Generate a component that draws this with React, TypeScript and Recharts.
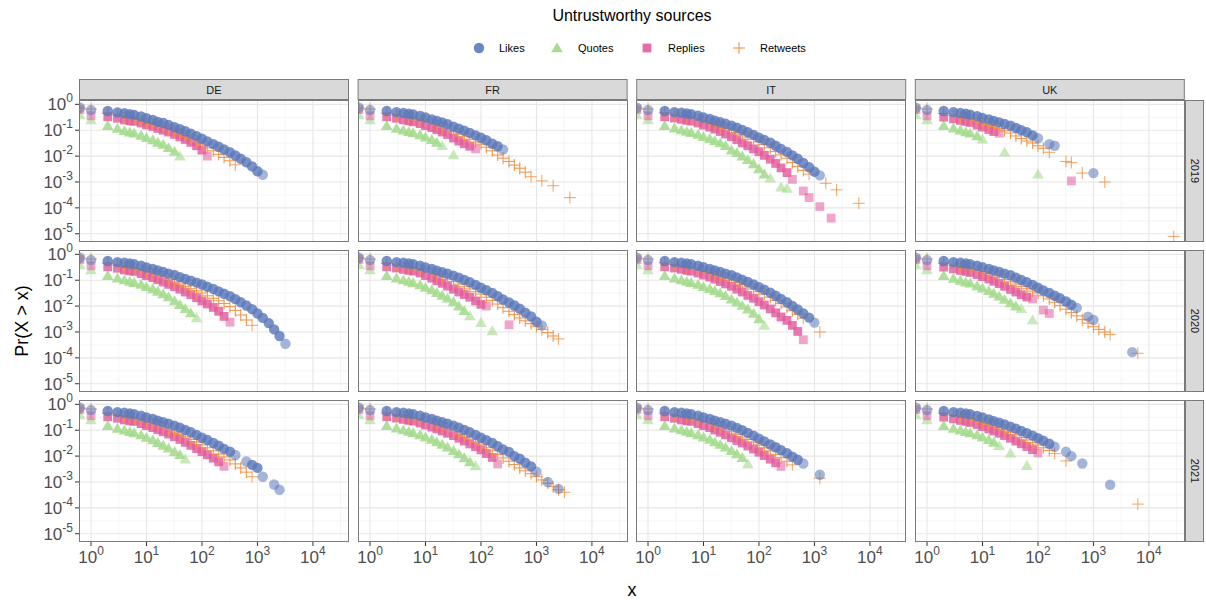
import React from 'react';
import { ScatterChart, Scatter, XAxis, YAxis, CartesianGrid } from 'recharts';

const _ = null;

const COUNTRIES = ['DE', 'FR', 'IT', 'UK'];
const YEARS = ['2019', '2020', '2021'];
const SERIES = ['Likes', 'Quotes', 'Replies', 'Retweets'];

// x positions shared by all series (log spaced, ~10 per decade above 10)
const XS = [0.63, 1, 2, 3, 4, 5, 6, 8, 10, 13, 16, 20, 25, 32, 40, 50, 63, 80, 100, 125, 160, 200, 250, 320, 400, 500, 630, 800, 1000, 1250, 1600, 2000, 2500, 3200, 4000, 5000, 6300, 8000, 10000, 12500, 16000, 20000, 28000];

const X_TICKS = [1, 10, 100, 1000, 10000];
const X_TICK_EXP = ['0', '1', '2', '3', '4'];
const Y_TICKS = [1, 0.1, 0.01, 0.001, 0.0001, 0.00001];
const Y_TICK_EXP = ['0', '-1', '-2', '-3', '-4', '-5'];
const X_MINOR = [3.162, 31.62, 316.2, 3162, 31623];
const Y_MINOR = [0.3162, 0.03162, 0.003162, 0.0003162, 0.00003162];

// ---- 2019 ----
const DE_2019_LIKES = [0.74, 0.6, 0.55, 0.49, 0.45, 0.42, 0.39, 0.34, 0.29, 0.25, 0.21, 0.19, 0.16, 0.13, 0.11, 0.091, 0.074, 0.059, 0.047, 0.037, 0.029, 0.023, 0.018, 0.014, 0.0105, 0.0079, 0.0058, 0.004, 0.0026, 0.0019];
const DE_2019_QUOTES = [0.39, 0.25, 0.15, 0.117, 0.095, 0.083, 0.076, 0.063, 0.051, 0.042, 0.034, 0.028, 0.021, 0.015, 0.01];
const DE_2019_REPLIES = [0.63, 0.36, 0.33, 0.29, 0.25, 0.23, 0.22, 0.19, 0.16, 0.14, 0.117, 0.1, 0.085, 0.069, 0.055, 0.044, 0.034, 0.025, 0.017, 0.01];
const DE_2019_RETWEETS = [0.71, 0.66, 0.45, 0.38, 0.33, 0.3, 0.275, 0.234, 0.2, 0.17, 0.145, 0.126, 0.107, 0.089, 0.072, 0.059, 0.048, 0.036, 0.027, 0.021, 0.016, 0.0117, 0.0089, 0.0066, 0.0046];

const FR_2019_LIKES = [0.74, 0.6, 0.55, 0.5, 0.46, 0.43, 0.41, 0.355, 0.31, 0.263, 0.229, 0.2, 0.17, 0.138, 0.115, 0.095, 0.079, 0.063, 0.051, 0.041, 0.03, 0.024, 0.018];
const FR_2019_QUOTES = [0.39, 0.25, 0.15, 0.117, 0.1, 0.087, 0.079, 0.066, 0.054, 0.043, 0.034, 0.025, _, 0.011];
const FR_2019_REPLIES = [0.63, 0.36, 0.33, 0.29, 0.25, 0.23, 0.21, 0.18, 0.15, 0.126, 0.105, 0.085, 0.068, 0.05, 0.038, 0.03, 0.024, 0.019];
const FR_2019_RETWEETS = [0.71, 0.66, 0.45, 0.38, 0.34, 0.31, 0.28, 0.245, 0.214, 0.182, 0.155, 0.132, 0.11, 0.087, 0.071, 0.056, 0.045, 0.035, 0.029, 0.022, 0.016, 0.011, 0.0083, 0.0062, 0.0045, 0.0034, 0.0024, 0.0016, _, 0.0011, _, 0.00072, _, _, 0.00025];

const IT_2019_LIKES = [0.74, 0.6, 0.55, 0.5, 0.47, 0.44, 0.42, 0.36, 0.31, 0.27, 0.234, 0.204, 0.178, 0.151, 0.126, 0.102, 0.083, 0.066, 0.051, 0.042, 0.033, 0.025, 0.019, 0.0145, 0.0107, 0.0079, 0.0054, 0.0037, 0.0025, 0.0018];
const IT_2019_QUOTES = [0.39, 0.25, 0.15, 0.12, 0.102, 0.089, 0.081, 0.068, 0.056, 0.047, 0.039, 0.032, 0.025, 0.017, 0.0135, 0.01, 0.0072, 0.005, 0.0032, 0.002, 0.0014, _, 0.00063, 0.00056];
const IT_2019_REPLIES = [0.63, 0.36, 0.33, 0.295, 0.263, 0.24, 0.224, 0.19, 0.158, 0.132, 0.11, 0.089, 0.071, 0.056, 0.043, 0.032, 0.025, 0.019, 0.0148, 0.0107, 0.0076, 0.0052, 0.0035, 0.0023, 0.00126, _, 0.00045, 0.00025, _, 0.000112, _, 0.00004];
const IT_2019_RETWEETS = [0.71, 0.66, 0.47, 0.4, 0.355, 0.324, 0.3, 0.263, 0.229, 0.195, 0.166, 0.138, 0.117, 0.1, 0.081, 0.066, 0.054, 0.045, 0.036, 0.028, 0.021, 0.015, 0.0112, 0.0083, 0.0056, 0.004, 0.0028, 0.002, _, _, 0.00089, _, 0.0005, _, _, _, 0.00015];

const UK_2019_LIKES = [0.74, 0.6, 0.55, 0.5, 0.46, 0.43, 0.4, 0.35, 0.3, 0.263, 0.229, 0.2, 0.174, 0.148, 0.123, 0.1, 0.083, 0.063, 0.049, _, 0.029, 0.025, _, _, _, _, _, _, 0.0022];
const UK_2019_QUOTES = [0.39, 0.25, 0.15, 0.12, 0.1, 0.085, 0.076, 0.06, 0.045, _, _, _, 0.014, _, _, _, _, _, 0.002];
const UK_2019_REPLIES = [0.63, 0.36, 0.32, 0.275, 0.24, 0.22, 0.2, 0.158, 0.132, 0.107, 0.089, 0.076, _, _, _, _, _, _, _, _, _, _, _, _, 0.0011];
const UK_2019_RETWEETS = [0.71, 0.66, 0.44, 0.37, 0.33, 0.3, 0.275, 0.234, 0.2, 0.166, 0.138, 0.115, 0.095, 0.078, 0.06, 0.048, 0.038, 0.032, 0.025, 0.02, 0.014, _, _, 0.0062, 0.0056, _, 0.0022, _, _, _, 0.001, _, _, _, _, _, _, _, _, _, _, _, 0.0000079];

// ---- 2020 ----
const DE_2020_LIKES = [0.74, 0.6, 0.55, 0.5, 0.47, 0.44, 0.42, 0.36, 0.31, 0.27, 0.24, 0.21, 0.18, 0.158, 0.132, 0.112, 0.095, 0.081, 0.068, 0.056, 0.046, 0.037, 0.03, 0.024, 0.0186, 0.0141, 0.0105, 0.0076, 0.0052, 0.0035, 0.0022, 0.00126, 0.0007, 0.00035];
const DE_2020_QUOTES = [0.39, 0.25, 0.15, 0.12, 0.102, 0.089, 0.081, 0.068, 0.056, 0.046, 0.037, 0.0295, 0.0224, 0.0158, 0.0112, 0.0079, 0.0054, 0.0035];
const DE_2020_REPLIES = [0.63, 0.36, 0.33, 0.29, 0.25, 0.23, 0.22, 0.18, 0.15, 0.126, 0.105, 0.085, 0.069, 0.056, 0.045, 0.035, 0.0275, 0.021, 0.0158, 0.012, 0.0089, 0.0063, 0.004, 0.0024];
const DE_2020_RETWEETS = [0.71, 0.66, 0.45, 0.38, 0.34, 0.31, 0.28, 0.245, 0.214, 0.182, 0.155, 0.132, 0.107, 0.087, 0.071, 0.058, 0.047, 0.039, 0.032, 0.025, 0.02, 0.016, 0.0126, 0.0095, 0.0068, 0.0045, 0.0029, 0.0018];

const FR_2020_LIKES = [0.74, 0.6, 0.55, 0.5, 0.47, 0.44, 0.42, 0.36, 0.31, 0.27, 0.234, 0.204, 0.178, 0.151, 0.126, 0.102, 0.083, 0.066, 0.051, 0.041, 0.032, 0.024, 0.018, 0.0138, 0.0105, 0.0079, 0.0056, 0.004, 0.0025, 0.0018];
const FR_2020_QUOTES = [0.39, 0.25, 0.15, 0.12, 0.102, 0.089, 0.079, 0.065, 0.052, 0.042, 0.033, 0.026, 0.02, 0.0145, 0.01, 0.0066, 0.0042, _, 0.0023, _, 0.0011];
const FR_2020_REPLIES = [0.63, 0.36, 0.33, 0.295, 0.263, 0.24, 0.224, 0.19, 0.151, 0.12, 0.095, 0.076, 0.059, 0.045, 0.035, 0.028, 0.022, 0.0158, 0.0117, 0.01, _, _, _, 0.0019];
const FR_2020_RETWEETS = [0.71, 0.66, 0.45, 0.38, 0.34, 0.31, 0.28, 0.245, 0.214, 0.182, 0.155, 0.132, 0.11, 0.089, 0.071, 0.056, 0.046, 0.036, 0.029, 0.022, 0.0166, 0.012, 0.0087, 0.0063, 0.0047, 0.0035, 0.0027, 0.0021, 0.0016, 0.00126, 0.00095, 0.0007, 0.00054];

const IT_2020_LIKES = [0.74, 0.6, 0.55, 0.5, 0.47, 0.44, 0.42, 0.36, 0.32, 0.275, 0.24, 0.21, 0.18, 0.155, 0.129, 0.105, 0.085, 0.068, 0.054, 0.043, 0.033, 0.025, 0.019, 0.0141, 0.0102, 0.0074, 0.0052, 0.0036, 0.0023];
const IT_2020_QUOTES = [0.39, 0.25, 0.15, 0.12, 0.102, 0.089, 0.081, 0.068, 0.056, 0.047, 0.039, 0.032, 0.025, 0.0186, 0.0141, 0.0105, 0.0076, 0.0052, 0.0032, 0.0018];
const IT_2020_REPLIES = [0.63, 0.36, 0.33, 0.295, 0.263, 0.24, 0.224, 0.19, 0.158, 0.132, 0.11, 0.089, 0.072, 0.058, 0.045, 0.035, 0.026, 0.02, 0.0148, 0.011, 0.0078, 0.0055, 0.0038, 0.0028, 0.0018, 0.00105, 0.0005];
const IT_2020_RETWEETS = [0.71, 0.66, 0.47, 0.4, 0.355, 0.324, 0.3, 0.263, 0.229, 0.195, 0.166, 0.141, 0.12, 0.1, 0.083, 0.068, 0.055, 0.045, 0.036, 0.029, 0.022, 0.0166, 0.0126, 0.0093, 0.0066, 0.0048, 0.0034, _, _, 0.001];

const UK_2020_LIKES = [0.74, 0.6, 0.55, 0.5, 0.47, 0.44, 0.42, 0.36, 0.32, 0.275, 0.24, 0.21, 0.18, 0.155, 0.126, 0.102, 0.083, 0.066, 0.051, 0.04, 0.032, 0.025, 0.02, 0.015, 0.0112, 0.0085, _, 0.0039, 0.0029, _, _, _, _, _, _, 0.000166];
const UK_2020_QUOTES = [0.39, 0.25, 0.15, 0.117, 0.098, 0.083, 0.076, 0.06, 0.049, 0.039, 0.031, 0.024, 0.018, 0.0132, 0.01, 0.0079, _, 0.0029];
const UK_2020_REPLIES = [0.63, 0.36, 0.32, 0.275, 0.24, 0.22, 0.2, 0.166, 0.138, 0.112, 0.091, 0.074, 0.058, 0.044, 0.035, 0.0275, 0.0224, 0.019, _, 0.007, 0.0052];
const UK_2020_RETWEETS = [0.71, 0.66, 0.45, 0.38, 0.34, 0.31, 0.28, 0.245, 0.214, 0.182, 0.155, 0.132, 0.107, 0.087, 0.071, 0.058, 0.047, 0.038, 0.032, 0.025, 0.019, 0.0141, 0.0105, 0.0076, 0.0056, 0.0042, 0.003, 0.0022, 0.0016, 0.00126, 0.001, 0.0008, _, _, _, _, 0.00015];

// ---- 2021 ----
const DE_2021_LIKES = [0.74, 0.6, 0.55, 0.5, 0.47, 0.44, 0.42, 0.36, 0.31, 0.27, 0.234, 0.204, 0.178, 0.151, 0.126, 0.102, 0.083, 0.066, 0.051, 0.042, 0.032, 0.025, 0.019, 0.0148, 0.011, _, 0.0062, 0.0046, 0.0035, 0.0016, _, 0.0008, 0.0005];
const DE_2021_QUOTES = [0.39, 0.25, 0.15, 0.117, 0.1, 0.087, 0.079, 0.065, 0.052, 0.042, 0.033, 0.026, 0.02, 0.0148, 0.0112, 0.0076];
const DE_2021_REPLIES = [0.63, 0.36, 0.33, 0.29, 0.25, 0.23, 0.22, 0.18, 0.15, 0.126, 0.105, 0.087, 0.071, 0.056, 0.044, 0.034, 0.026, 0.0195, 0.0148, 0.0112, 0.0083, 0.006, 0.004];
const DE_2021_RETWEETS = [0.71, 0.66, 0.45, 0.38, 0.34, 0.31, 0.28, 0.245, 0.214, 0.182, 0.155, 0.132, 0.107, 0.087, 0.069, 0.055, 0.044, 0.035, 0.027, 0.021, 0.016, 0.012, 0.0093, 0.0071, 0.005, 0.0035, 0.0024, 0.0016];

const FR_2021_LIKES = [0.74, 0.6, 0.55, 0.5, 0.47, 0.44, 0.42, 0.36, 0.31, 0.27, 0.234, 0.204, 0.178, 0.151, 0.126, 0.102, 0.083, 0.066, 0.051, 0.041, 0.032, 0.024, 0.018, 0.0145, 0.01, 0.0079, 0.0056, 0.004, 0.0025, _, 0.001, _, 0.00054];
const FR_2021_QUOTES = [0.39, 0.25, 0.15, 0.12, 0.102, 0.089, 0.079, 0.066, 0.054, 0.044, 0.035, 0.028, 0.022, 0.0162, 0.012, 0.0085, 0.006, 0.0042];
const FR_2021_REPLIES = [0.63, 0.36, 0.33, 0.295, 0.263, 0.24, 0.224, 0.19, 0.158, 0.132, 0.112, 0.093, 0.076, 0.062, 0.049, 0.038, 0.0295, 0.023, 0.0174, 0.0126, 0.0089, 0.005];
const FR_2021_RETWEETS = [0.71, 0.66, 0.45, 0.38, 0.34, 0.31, 0.28, 0.245, 0.214, 0.182, 0.155, 0.132, 0.11, 0.089, 0.071, 0.056, 0.045, 0.035, 0.027, 0.021, 0.016, 0.0117, 0.0085, 0.0063, 0.0047, 0.0035, 0.0027, 0.0021, 0.0016, 0.0012, 0.00089, 0.00066, 0.0005, 0.0004];

const IT_2021_LIKES = [0.74, 0.6, 0.55, 0.5, 0.47, 0.44, 0.42, 0.36, 0.31, 0.27, 0.234, 0.204, 0.178, 0.151, 0.123, 0.1, 0.079, 0.062, 0.047, 0.037, 0.028, 0.022, 0.017, 0.0129, 0.0095, 0.0072, 0.0052, _, _, 0.0019];
const IT_2021_QUOTES = [0.39, 0.25, 0.15, 0.12, 0.102, 0.089, 0.079, 0.066, 0.054, 0.044, 0.035, 0.028, 0.022, 0.0162, 0.012, 0.0087, 0.005];
const IT_2021_REPLIES = [0.63, 0.36, 0.33, 0.29, 0.25, 0.23, 0.22, 0.18, 0.15, 0.126, 0.102, 0.083, 0.066, 0.051, 0.04, 0.032, 0.0245, 0.0186, 0.0141, 0.0105, 0.0076, 0.0055, 0.004];
const IT_2021_RETWEETS = [0.71, 0.66, 0.45, 0.38, 0.34, 0.31, 0.28, 0.245, 0.214, 0.182, 0.155, 0.132, 0.107, 0.087, 0.069, 0.055, 0.044, 0.035, 0.027, 0.021, 0.016, 0.0117, 0.0087, 0.0063, 0.0046, _, _, _, _, 0.0014];

const UK_2021_LIKES = [0.74, 0.6, 0.55, 0.5, 0.47, 0.44, 0.42, 0.355, 0.31, 0.263, 0.224, 0.195, 0.166, 0.138, 0.115, 0.093, 0.076, 0.062, 0.049, 0.039, 0.03, 0.023, _, 0.0148, 0.01, _, 0.0052, _, _, _, _, 0.00078];
const UK_2021_QUOTES = [0.39, 0.25, 0.15, 0.117, 0.1, 0.087, 0.079, 0.066, 0.054, 0.043, 0.034, 0.025, _, 0.0129, _, _, 0.0043];
const UK_2021_REPLIES = [0.63, 0.36, 0.32, 0.275, 0.24, 0.22, 0.2, 0.166, 0.138, 0.112, 0.093, 0.076, 0.062, 0.049, 0.038, 0.03, 0.0234, 0.0178, 0.0132];
const UK_2021_RETWEETS = [0.71, 0.66, 0.45, 0.38, 0.34, 0.31, 0.28, 0.24, 0.2, 0.17, 0.145, 0.123, 0.102, 0.083, 0.066, 0.052, 0.042, 0.033, 0.027, 0.021, 0.0166, 0.0126, _, 0.0065, _, _, _, _, _, _, _, _, _, _, _, _, 0.00014];

// lookup: country -> year -> [likes, quotes, replies, retweets]
const PANEL_DATA: Record<string, Record<string, (number | null)[][]>> = {
  DE: {
    '2019': [DE_2019_LIKES, DE_2019_QUOTES, DE_2019_REPLIES, DE_2019_RETWEETS],
    '2020': [DE_2020_LIKES, DE_2020_QUOTES, DE_2020_REPLIES, DE_2020_RETWEETS],
    '2021': [DE_2021_LIKES, DE_2021_QUOTES, DE_2021_REPLIES, DE_2021_RETWEETS],
  },
  FR: {
    '2019': [FR_2019_LIKES, FR_2019_QUOTES, FR_2019_REPLIES, FR_2019_RETWEETS],
    '2020': [FR_2020_LIKES, FR_2020_QUOTES, FR_2020_REPLIES, FR_2020_RETWEETS],
    '2021': [FR_2021_LIKES, FR_2021_QUOTES, FR_2021_REPLIES, FR_2021_RETWEETS],
  },
  IT: {
    '2019': [IT_2019_LIKES, IT_2019_QUOTES, IT_2019_REPLIES, IT_2019_RETWEETS],
    '2020': [IT_2020_LIKES, IT_2020_QUOTES, IT_2020_REPLIES, IT_2020_RETWEETS],
    '2021': [IT_2021_LIKES, IT_2021_QUOTES, IT_2021_REPLIES, IT_2021_RETWEETS],
  },
  UK: {
    '2019': [UK_2019_LIKES, UK_2019_QUOTES, UK_2019_REPLIES, UK_2019_RETWEETS],
    '2020': [UK_2020_LIKES, UK_2020_QUOTES, UK_2020_REPLIES, UK_2020_RETWEETS],
    '2021': [UK_2021_LIKES, UK_2021_QUOTES, UK_2021_REPLIES, UK_2021_RETWEETS],
  },
};

const COLORS: Record<string, string> = {
  Likes: '#5b79ba',
  Quotes: '#a3da8b',
  Replies: '#e25c9e',
  Retweets: '#f28f40',
};
const DRAW_ORDER = [1, 2, 3, 0]; // quotes, replies, retweets, likes on top

const FONT = '"Liberation Sans", Arial, Helvetica, sans-serif';
const COL_LEFT = [79, 357.6, 636.2, 914.8];
const ROW_TOP = [100, 250, 400];
const PLOT_W = 270;
const PLOT_H = 142;
const TOP_PAD = 14;
const BOTTOM_PAD = 10;
const X_DOMAIN = [0.607, 44700];
const Y_DOMAIN = [0.0000048, 1.47];

// points that sit inside a run of neighbours get a stronger fill (overplotting in the original)
function toPoints(ys: (number | null)[]) {
  const out: { x: number; y: number; dense: boolean }[] = [];
  ys.forEach((y, i) => {
    if (y != null) out.push({ x: XS[i], y, dense: ys[i - 1] != null && ys[i + 1] != null && i > 1 });
  });
  return out;
}

function Marker({ cx, cy, kind, dense, legend }: any) {
  if (cx == null || cy == null) return null;
  const c = COLORS[kind];
  const op = legend ? 0.9 : dense ? 0.82 : 0.55;
  if (kind === 'Likes') return <circle cx={cx} cy={cy} r={5.2} fill={c} fillOpacity={op} />;
  if (kind === 'Quotes')
    return (
      <polygon
        points={`${cx},${cy - 5.6} ${cx - 5.8},${cy + 4.3} ${cx + 5.8},${cy + 4.3}`}
        fill={c}
        fillOpacity={Math.min(1, op + 0.05)}
      />
    );
  if (kind === 'Replies') return <rect x={cx - 4.4} y={cy - 4.4} width={8.8} height={8.8} fill={c} fillOpacity={op} />;
  return (
    <g stroke={c} strokeOpacity={legend ? 0.95 : dense ? 0.9 : 0.75} strokeWidth={1.1}>
      <line x1={cx - 6} y1={cy} x2={cx + 6} y2={cy} />
      <line x1={cx} y1={cy - 6} x2={cx} y2={cy + 6} />
    </g>
  );
}

const XTick = (props: any) => {
  const { x, y, payload } = props;
  const exp = X_TICK_EXP[X_TICKS.indexOf(payload.value)];
  return (
    <text x={x} y={y + 15} textAnchor="middle" fill="#4d4d4d" fontFamily={FONT} fontSize={17}>
      10
      <tspan dy={-8} fontSize={12}>
        {exp}
      </tspan>
    </text>
  );
};

const YTick = (props: any) => {
  const { x, y, payload } = props;
  const exp = Y_TICK_EXP[Y_TICKS.indexOf(payload.value)];
  return (
    <text x={x} y={y + 6} textAnchor="end" fill="#4d4d4d" fontFamily={FONT} fontSize={17}>
      10
      <tspan dy={-8} fontSize={12}>
        {exp}
      </tspan>
    </text>
  );
};

function Panel({ ci, ri }: { ci: number; ri: number }) {
  const showY = ci === 0;
  const showX = ri === YEARS.length - 1;
  const yw = showY ? 79 : 0;
  const xh = showX ? 40 : 0;
  const bottom = showX ? 0 : BOTTOM_PAD;
  const series = PANEL_DATA[COUNTRIES[ci]][YEARS[ri]];
  return (
    <div style={{ position: 'absolute', left: COL_LEFT[ci] - yw, top: ROW_TOP[ri] - TOP_PAD }}>
      <ScatterChart
        width={PLOT_W + yw}
        height={PLOT_H + xh + TOP_PAD + bottom}
        margin={{ top: TOP_PAD, right: 0, bottom, left: 0 }}
      >
        <CartesianGrid stroke="#f0f0f0" strokeWidth={0.7} horizontalValues={Y_MINOR} verticalValues={X_MINOR} />
        <CartesianGrid stroke="#e6e6e6" strokeWidth={1.1} horizontalValues={Y_TICKS} verticalValues={X_TICKS} />
        <XAxis
          type="number"
          dataKey="x"
          scale="log"
          domain={X_DOMAIN}
          allowDataOverflow
          ticks={X_TICKS}
          interval={0}
          hide={!showX}
          height={xh}
          tick={<XTick />}
          tickSize={4}
          tickLine={{ stroke: '#333' }}
          axisLine={false}
        />
        <YAxis
          type="number"
          dataKey="y"
          scale="log"
          domain={Y_DOMAIN}
          allowDataOverflow
          ticks={Y_TICKS}
          interval={0}
          hide={!showY}
          width={yw}
          tick={<YTick />}
          tickSize={4}
          tickLine={{ stroke: '#333' }}
          axisLine={false}
        />
        {DRAW_ORDER.map((si) => (
          <Scatter
            key={SERIES[si]}
            name={SERIES[si]}
            data={toPoints(series[si])}
            isAnimationActive={false}
            shape={(p: any) => <Marker cx={p.cx} cy={p.cy} kind={SERIES[si]} dense={p.payload?.dense} />}
          />
        ))}
      </ScatterChart>
      <div
        style={{
          position: 'absolute',
          left: yw,
          top: TOP_PAD,
          width: PLOT_W,
          height: PLOT_H,
          border: '1px solid #7a7a7a',
          boxSizing: 'border-box',
          pointerEvents: 'none',
        }}
      />
    </div>
  );
}

const LEGEND_POS = [
  { mx: 479, tx: 499 },
  { mx: 557, tx: 578 },
  { mx: 647, tx: 668 },
  { mx: 739, tx: 760 },
];

export default function App() {
  return (
    <div style={{ position: 'absolute', left: 0, top: 0, width: 1206, height: 601, background: '#fff', fontFamily: FONT }}>
      <svg width={1206} height={601} style={{ position: 'absolute', left: 0, top: 0 }}>
        <text x={632} y={21} textAnchor="middle" fontSize={16} fill="#000" fontFamily={FONT}>
          Untrustworthy sources
        </text>
        {SERIES.map((s, i) => (
          <g key={s}>
            <Marker cx={LEGEND_POS[i].mx} cy={48} kind={s} legend />
            <text x={LEGEND_POS[i].tx} y={52} fontSize={11} fill="#000" fontFamily={FONT}>
              {s}
            </text>
          </g>
        ))}
        {COUNTRIES.map((c, ci) => (
          <g key={c}>
            <rect x={COL_LEFT[ci] + 0.5} y={79.5} width={PLOT_W - 1} height={20} fill="#d9d9d9" stroke="#7a7a7a" />
            <text x={COL_LEFT[ci] + PLOT_W / 2} y={93.5} textAnchor="middle" fontSize={11} fill="#1a1a1a" fontFamily={FONT}>
              {c}
            </text>
          </g>
        ))}
        {YEARS.map((yr, ri) => (
          <g key={yr}>
            <rect x={1185.5} y={ROW_TOP[ri] + 0.5} width={18} height={PLOT_H - 1} fill="#d9d9d9" stroke="#7a7a7a" />
            <text
              x={1194.5}
              y={ROW_TOP[ri] + PLOT_H / 2}
              textAnchor="middle"
              dominantBaseline="central"
              fontSize={11}
              fill="#1a1a1a"
              fontFamily={FONT}
              transform={`rotate(90, 1194.5, ${ROW_TOP[ri] + PLOT_H / 2})`}
            >
              {yr}
            </text>
          </g>
        ))}
        <text
          x={22}
          y={321}
          textAnchor="middle"
          dominantBaseline="central"
          fontSize={18}
          fill="#000"
          fontFamily={FONT}
          transform="rotate(-90, 22, 321)"
        >
          Pr(X &gt; x)
        </text>
        <text x={632} y={596} textAnchor="middle" fontSize={18} fill="#000" fontFamily={FONT}>
          x
        </text>
      </svg>
      {YEARS.map((_y, ri) => COUNTRIES.map((_c, ci) => <Panel key={`${ci}-${ri}`} ci={ci} ri={ri} />))}
    </div>
  );
}
